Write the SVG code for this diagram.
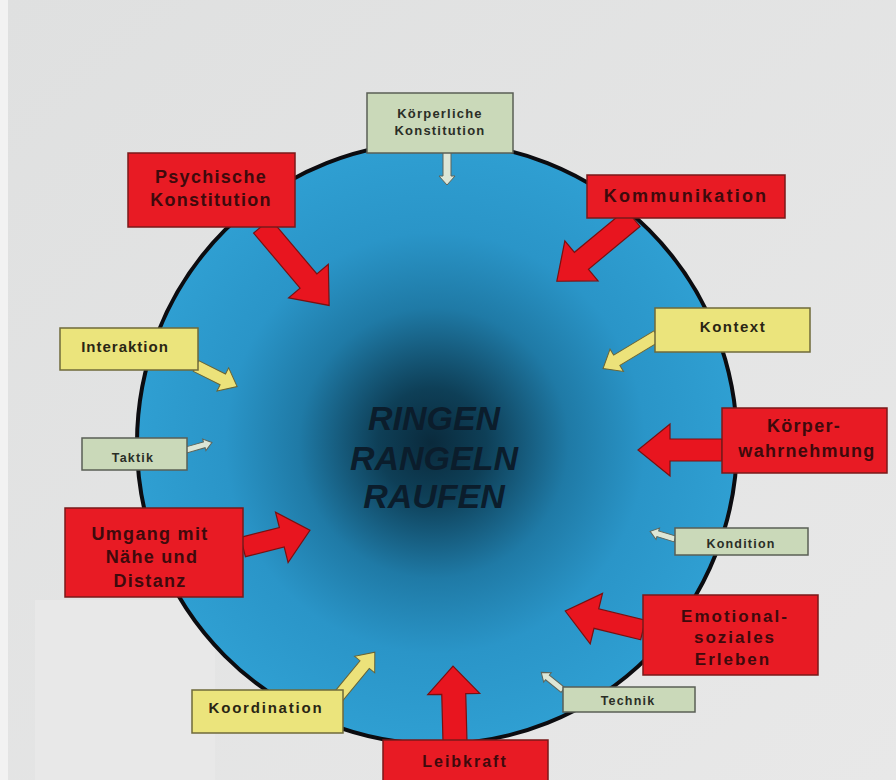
<svg xmlns="http://www.w3.org/2000/svg" width="896" height="780" viewBox="0 0 896 780">
<defs>
<radialGradient id="ball" cx="0.5" cy="0.5" r="0.5" fx="0.49" fy="0.5">
<stop offset="0" stop-color="#0a2a3c"/>
<stop offset="0.18" stop-color="#0e3f57"/>
<stop offset="0.45" stop-color="#1f7aa6"/>
<stop offset="0.7" stop-color="#2a95c8"/>
<stop offset="1" stop-color="#2f9fd2"/>
</radialGradient>
<linearGradient id="bg" x1="0" y1="0" x2="1" y2="1">
<stop offset="0" stop-color="#dfe0e0"/>
<stop offset="1" stop-color="#e8e8e8"/>
</linearGradient>
<style>
.red{fill:#e81b24;stroke:#7a1a1a;stroke-width:1.5}
.yel{fill:#ebe47c;stroke:#6f6a3a;stroke-width:1.5}
.grn{fill:#cad9b9;stroke:#5a5f55;stroke-width:1.5}
.ar-red{fill:#e8151f;stroke:#7a1010;stroke-width:1.2}
.ar-yel{fill:#ece27a;stroke:#6a6435;stroke-width:1}
.ar-grn{fill:#dde6d6;stroke:#5e655a;stroke-width:1}
text{font-family:"Liberation Sans",Arial,sans-serif;font-weight:bold;text-anchor:middle}
.tr{font-size:18px;fill:#3e0a0c;letter-spacing:1.3px}
.ty{font-size:15px;fill:#2a2614;letter-spacing:1.5px}
.tg{font-size:12.5px;fill:#2a2e26;letter-spacing:1.2px}
.tc{font-size:34px;font-style:italic;fill:#0b1d2c}
</style>
</defs>
<rect x="0" y="0" width="896" height="780" fill="url(#bg)"/>
<rect x="0" y="0" width="8" height="780" fill="#f2f2f2"/>
<rect x="35" y="600" width="180" height="180" fill="#e8e8e8"/>
<g id="center">
<ellipse cx="437" cy="443" rx="300" ry="301" fill="url(#ball)" stroke="#0c0c10" stroke-width="4"/>
<text class="tc" x="434" y="430">RINGEN</text>
<text class="tc" x="434" y="470">RANGELN</text>
<text class="tc" x="434" y="508">RAUFEN</text>
</g>
<g id="connectors">
<path class="ar-red" transform="translate(262,226) rotate(49.8)" d="M0,-11 H72 V-26 L104,0 L72,26 V11 H0 Z"/>
<path class="ar-red" transform="translate(633,218) rotate(140.3)" d="M0,-11 H67 V-26 L99,0 L67,26 V11 H0 Z"/>
<path class="ar-red" transform="translate(722,450) rotate(180)" d="M0,-11 H52 V-26 L84,0 L52,26 V11 H0 Z"/>
<path class="ar-red" transform="translate(243,547) rotate(-14)" d="M0,-10 H40 V-26 L69,0 L40,26 V10 H0 Z"/>
<path class="ar-red" transform="translate(643,630) rotate(-166.3)" d="M0,-10 H48 V-26 L80,0 L48,26 V10 H0 Z"/>
<path class="ar-red" transform="translate(455,742) rotate(-91.5)" d="M0,-12 H48 V-26 L76,0 L48,26 V12 H0 Z"/>
<path class="ar-yel" transform="translate(657,336) rotate(148.9)" d="M0,-6 H47 V-13 L63,0 L47,13 V6 H0 Z"/>
<path class="ar-yel" transform="translate(196,366) rotate(26.6)" d="M0,-6 H30 V-13 L46,0 L30,13 V6 H0 Z"/>
<path class="ar-yel" transform="translate(338,697) rotate(-50.6)" d="M0,-6 H42 V-13 L58,0 L42,13 V6 H0 Z"/>
<path class="ar-grn" transform="translate(447,152) rotate(90)" d="M0,-4 H24 V-8 L33,0 L24,8 V4 H0 Z"/>
<path class="ar-grn" transform="translate(186,450) rotate(-16)" d="M0,-3 H19 V-6 L27,0 L19,6 V3 H0 Z"/>
<path class="ar-grn" transform="translate(675,539) rotate(-163)" d="M0,-3 H18 V-6 L26,0 L18,6 V3 H0 Z"/>
<path class="ar-grn" transform="translate(563,690) rotate(-141)" d="M0,-3 H20 V-6 L28,0 L20,6 V3 H0 Z"/>
</g>
<g id="koerperliche-konstitution">
<rect class="grn" x="367" y="93" width="146" height="60"/>
<text class="tg" x="440" y="118" style="font-size:13px">Körperliche</text>
<text class="tg" x="440" y="135" style="font-size:13px">Konstitution</text>
</g>
<g id="psychische-konstitution">
<rect class="red" x="128" y="153" width="167" height="74"/>
<text class="tr" x="211" y="183">Psychische</text>
<text class="tr" x="211" y="206">Konstitution</text>
</g>
<g id="kommunikation">
<rect class="red" x="587" y="175" width="198" height="43"/>
<text class="tr" x="686" y="202" style="letter-spacing:2.2px">Kommunikation</text>
</g>
<g id="kontext">
<rect class="yel" x="655" y="308" width="155" height="44"/>
<text class="ty" x="733" y="332">Kontext</text>
</g>
<g id="koerperwahrnehmung">
<rect class="red" x="722" y="408" width="165" height="65"/>
<text class="tr" x="804" y="432">Körper-</text>
<text class="tr" x="807" y="457">wahrnehmung</text>
</g>
<g id="interaktion">
<rect class="yel" x="60" y="328" width="138" height="42"/>
<text class="ty" x="125" y="352" style="letter-spacing:1px">Interaktion</text>
</g>
<g id="taktik">
<rect class="grn" x="82" y="438" width="105" height="32"/>
<text class="tg" x="133" y="462">Taktik</text>
</g>
<g id="umgang">
<rect class="red" x="65" y="508" width="178" height="89"/>
<text class="tr" x="150" y="540">Umgang mit</text>
<text class="tr" x="152" y="563">Nähe und</text>
<text class="tr" x="150" y="587">Distanz</text>
</g>
<g id="kondition">
<rect class="grn" x="675" y="528" width="133" height="27"/>
<text class="tg" x="741" y="548">Kondition</text>
</g>
<g id="emotional-soziales-erleben">
<rect class="red" x="643" y="595" width="175" height="80"/>
<text class="tr" x="735" y="622" style="font-size:17px;letter-spacing:2px">Emotional-</text>
<text class="tr" x="735" y="643" style="font-size:17px;letter-spacing:2px">soziales</text>
<text class="tr" x="733" y="665" style="font-size:17px;letter-spacing:2px">Erleben</text>
</g>
<g id="technik">
<rect class="grn" x="563" y="687" width="132" height="25"/>
<text class="tg" x="628" y="705">Technik</text>
</g>
<g id="koordination">
<rect class="yel" x="192" y="690" width="151" height="43"/>
<text class="ty" x="266" y="713" style="letter-spacing:1.8px">Koordination</text>
</g>
<g id="leibkraft">
<rect class="red" x="383" y="740" width="165" height="44"/>
<text class="tr" x="465" y="767" style="font-size:16px;letter-spacing:2px">Leibkraft</text>
</g>
</svg>
